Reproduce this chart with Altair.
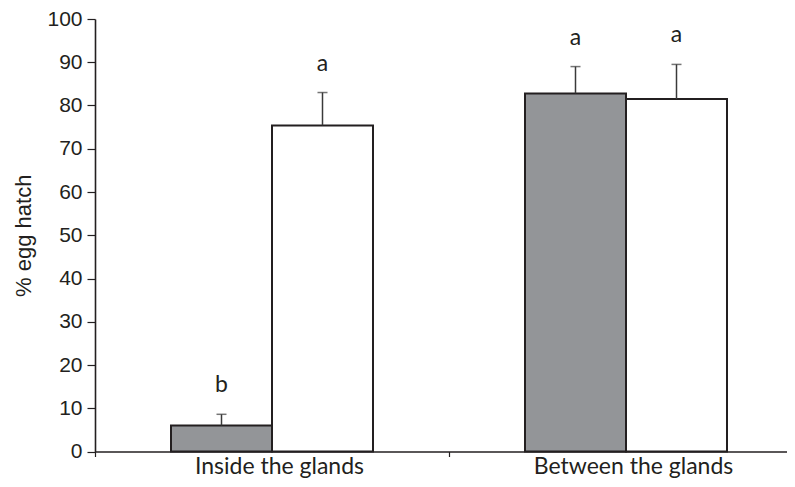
import altair as alt
import pandas as pd

locations = ["Inside the glands", "Inside the glands", "Between the glands", "Between the glands"]
treatments = ["Treated", "Control", "Treated", "Control"]
hatch = [6.0, 75.4, 82.8, 81.5]
err_top = [8.6, 83.0, 89.0, 89.5]
letters = ["b", "a", "a", "a"]

df = pd.DataFrame({
    "location": locations,
    "treatment": treatments,
    "hatch": hatch,
    "err": err_top,
    "letter": letters,
})

loc_order = ["Inside the glands", "Between the glands"]
trt_order = ["Treated", "Control"]
ink = "#231f20"

x = alt.X("location:N", sort=loc_order, title=None,
          scale=alt.Scale(paddingInner=0, paddingOuter=0, range=[0, 708]),
          axis=alt.Axis(tickBand="extent", tickSize=5, tickColor=ink, tickWidth=1.2,
                        domainColor=ink, domainWidth=1.6, labelAngle=0,
                        labelFont="Lato", labelFontSize=23, labelColor=ink, labelLimit=400,
                        labelBaseline="alphabetic", labelPadding=17, labelOffset=7))
xo = alt.XOffset("treatment:N", sort=trt_order,
                 scale=alt.Scale(paddingInner=0, paddingOuter=0.7525))
yscale = alt.Scale(domain=[0, 100], nice=False)

base = alt.Chart(df)

bars = base.mark_bar(stroke=ink, strokeWidth=2).encode(
    x=x, xOffset=xo,
    y=alt.Y("hatch:Q", scale=yscale, title="% egg hatch",
            axis=alt.Axis(values=list(range(0, 101, 10)), tickSize=8, tickColor=ink,
                          tickWidth=1.2, domainColor=ink, domainWidth=1.6, grid=False,
                          labelFont="Liberation Sans", labelFontSize=21, labelColor=ink,
                          labelPadding=5, titleFont="Liberation Sans", titleFontSize=22,
                          titleFontWeight="normal", titleColor=ink, titlePadding=11)),
    fill=alt.Fill("treatment:N", sort=trt_order, legend=None,
                  scale=alt.Scale(domain=trt_order, range=["#939598", "#ffffff"])),
)

err_line = base.mark_rule(color="#3a3a3a", strokeWidth=1.5).encode(
    x=x, xOffset=xo, y="hatch:Q", y2="err:Q")

err_cap = base.mark_tick(orient="horizontal", size=10, thickness=1.5, color="#3a3a3a").encode(
    x=x, xOffset=xo, y=alt.Y("err:Q", scale=yscale))

text = base.mark_text(font="Lato", fontSize=23, color=ink, baseline="alphabetic", dy=-22).encode(
    x=x, xOffset=xo, y=alt.Y("err:Q", scale=yscale), text="letter:N")

chart = alt.layer(bars, err_line, err_cap, text).properties(
    width=692, height=432.5,
    autosize=alt.AutoSizeParams(type="none"),
    padding={"left": 87, "top": 11, "right": 0, "bottom": 27.5},
).configure_view(stroke=None)

chart.save("out.html", embed_options={"renderer": "svg", "actions": False})
